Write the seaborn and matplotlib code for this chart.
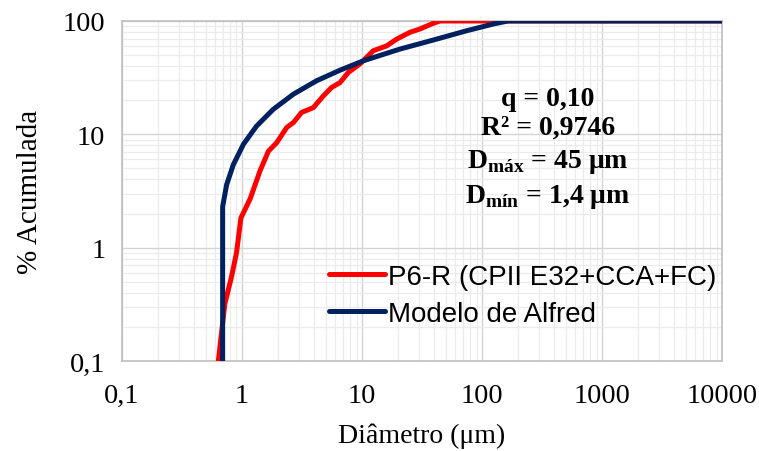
import matplotlib
matplotlib.use("Agg")
import matplotlib.pyplot as plt
import matplotlib.ticker as mticker
import numpy as np
import pandas as pd
import seaborn as sns

# Measured particle size distribution (P6-R) and fitted Alfred model
diam_p6r = [0.62, 0.72, 0.82, 0.90, 0.98, 1.17, 1.41, 1.66, 1.94, 2.36, 2.68, 3.14,
            3.93, 4.76, 5.58, 6.56, 7.7, 9.6, 12.4, 16.1, 19.5, 25.1, 30.4, 39.3,
            44.7, 150.0, 10000.0]
cum_p6r = [0.08, 0.32, 0.56, 0.90, 1.83, 2.7, 4.73, 7.1, 8.4, 11.5, 12.7, 15.6,
           17.2, 21.8, 25.9, 28.6, 35.2, 41.7, 54.6, 60.4, 69.3, 79.4, 85.0, 95.4,
           100.0, 100.0, 100.0]

diam_alfred = [0.69, 0.69, 0.745, 0.847, 1.03, 1.32, 1.82, 2.68, 4.19, 6.56, 10.3,
               20.7, 39.3, 74.5, 124.0, 165.0, 10000.0]
cum_alfred = [0.05, 2.3, 3.6, 5.4, 8.2, 11.8, 16.6, 22.6, 29.7, 36.8, 44.6,
              56.5, 67.9, 82.0, 94.0, 100.0, 100.0]

label_p6r = "P6-R (CPII E32+CCA+FC)"
label_alfred = "Modelo de Alfred"

x_ticks = [0.1, 1, 10, 100, 1000, 10000]
x_tick_labels = ["0,1", "1", "10", "100", "1000", "10000"]
y_ticks = [0.1, 1, 10, 100]
y_tick_labels = ["0,1", "1", "10", "100"]

sns.set_style("white")
plt.rcParams["font.family"] = ["Liberation Serif", "DejaVu Serif"]
plt.rcParams["text.color"] = "black"
plt.rcParams["axes.labelcolor"] = "black"
plt.rcParams["mathtext.fontset"] = "custom"
plt.rcParams["mathtext.rm"] = "Liberation Serif"
plt.rcParams["mathtext.bf"] = "Liberation Serif:bold"

df = pd.concat([
    pd.DataFrame({"d": diam_p6r, "c": cum_p6r, "serie": label_p6r}),
    pd.DataFrame({"d": diam_alfred, "c": cum_alfred, "serie": label_alfred}),
])

fig = plt.figure(figsize=(7.59, 4.52), dpi=100)
ax = fig.add_axes([0.1607, 0.199, 0.7906, 0.7524])

ax.set_xscale("log")
ax.set_yscale("log")
sns.lineplot(data=df, x="d", y="c", hue="serie", sort=False, estimator=None,
             palette={label_p6r: "#ff0000", label_alfred: "#002060"},
             linewidth=3.6, ax=ax, legend=False, zorder=3)
for ln in ax.lines:
    ln.set_solid_joinstyle("round")

ax.set_xlim(0.1, 10000)
ax.set_ylim(0.1, 100)

ax.xaxis.set_major_locator(mticker.FixedLocator(x_ticks))
ax.xaxis.set_major_formatter(mticker.FixedFormatter(x_tick_labels))
ax.yaxis.set_major_locator(mticker.FixedLocator(y_ticks))
ax.yaxis.set_major_formatter(mticker.FixedFormatter(y_tick_labels))
ax.xaxis.set_minor_locator(mticker.LogLocator(base=10, subs=np.arange(2, 10)))
ax.yaxis.set_minor_locator(mticker.LogLocator(base=10, subs=np.arange(2, 10)))
ax.xaxis.set_minor_formatter(mticker.NullFormatter())
ax.yaxis.set_minor_formatter(mticker.NullFormatter())

ax.grid(which="major", color="#d4d4d4", linewidth=1.0, zorder=0)
ax.grid(which="minor", color="#ebebeb", linewidth=0.9, zorder=0)
ax.set_axisbelow(True)
ax.tick_params(which="both", length=0, labelsize=20.5, colors="black")
ax.tick_params(axis="x", pad=16)
ax.tick_params(axis="y", pad=12)
for s in ax.spines.values():
    s.set_color("#bfbfbf")
    s.set_linewidth(1.2)

ax.set_xlabel("Diâmetro (μm)", fontsize=20, labelpad=10)
ax.set_ylabel("% Acumulada", fontsize=21, labelpad=14)

# Fit parameters
ann = dict(transform=ax.transAxes, ha="center", va="center",
           fontsize=20, fontweight="bold", color="black")
ax.text(0.71, 0.773, "q = 0,10", **ann)
ax.text(0.71, 0.688, "R² = 0,9746", **ann)
ax.text(0.71, 0.588, r"D$_{\mathbf{máx}}$ = 45 μm", **ann)
ax.text(0.71, 0.485, r"D$_{\mathbf{mín}}$ = 1,4 μm", **ann)

# Legend
handles = [plt.Line2D([], [], color="#ff0000", linewidth=3.6, solid_capstyle="round"),
           plt.Line2D([], [], color="#002060", linewidth=3.6, solid_capstyle="round")]
ax.legend(handles, [label_p6r, label_alfred], loc="lower right",
          bbox_to_anchor=(0.99, 0.1), frameon=False,
          prop={"family": "Liberation Sans", "size": 20},
          handlelength=2.0, handletextpad=0.1, labelspacing=0.4,
          borderaxespad=0.0, borderpad=0.0)

fig.savefig("out.png", dpi=100)
